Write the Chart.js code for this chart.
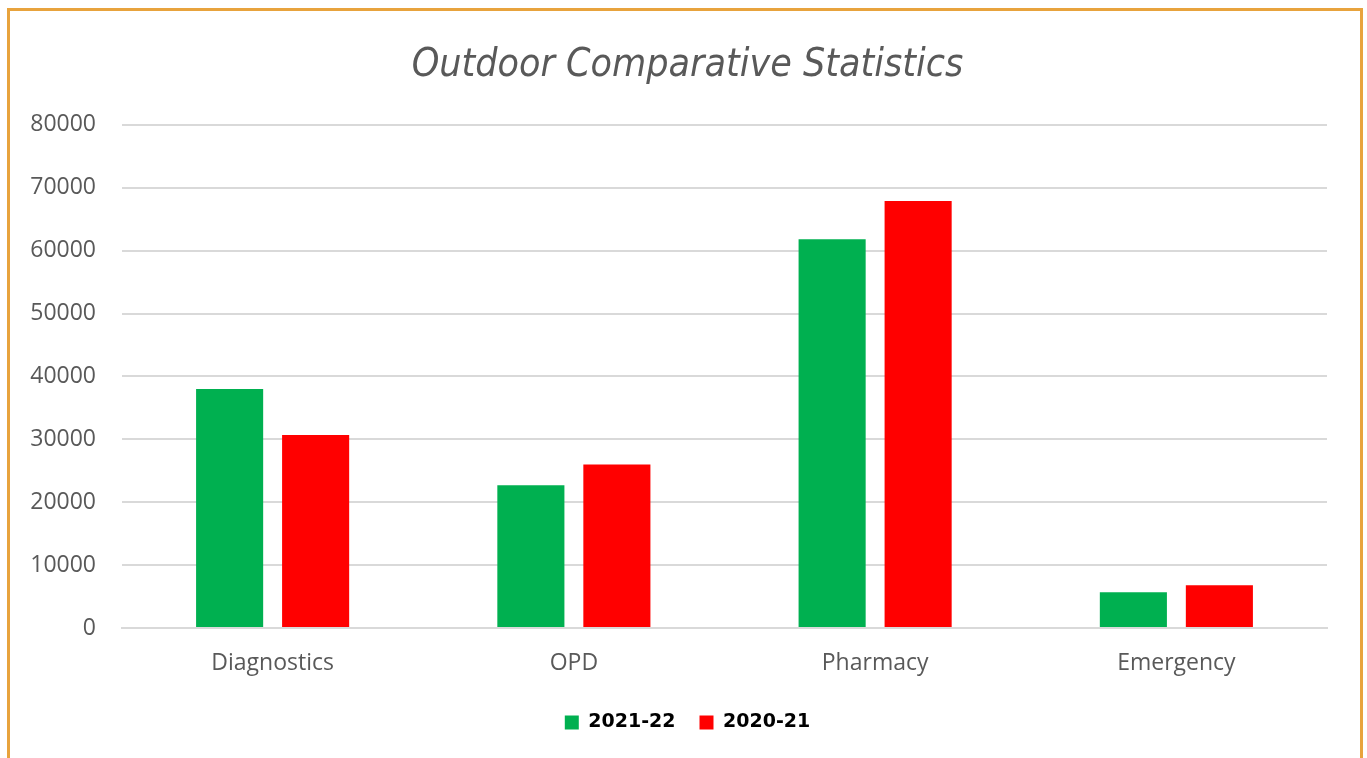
<!DOCTYPE html>
<html>
<head>
<meta charset="utf-8">
<script src="https://cdn.jsdelivr.net/npm/chart.js@4"></script>
<style>
  html, body { margin: 0; padding: 0; background: #fff; overflow: hidden; }
  #frame { position: absolute; left: 7px; top: 8px; width: 1350px; height: 800px; border: 3px solid #E8A33D; box-sizing: content-box; }
  #wrap { position: absolute; left: 0; top: 0; width: 1367px; height: 758px; }
</style>
</head>
<body>
<div id="frame"></div>
<div id="wrap"><canvas id="outdoorChart"></canvas></div>
<script>
const categories = ['Diagnostics', 'OPD', 'Pharmacy', 'Emergency'];
const seriesNames = ['2021-22', '2020-21'];
const values2122 = [38000, 22700, 61800, 5700];
const values2021 = [30700, 26000, 67900, 6800];

const ctx = document.getElementById('outdoorChart').getContext('2d');
const outdoorChart = new Chart(ctx, {
    type: 'bar',
    data: {
        labels: categories,
        datasets: [
            {
                label: seriesNames[0],
                data: values2122,
                backgroundColor: '#00B050',
                categoryPercentage: 0.571,
                barPercentage: 0.78
            },
            {
                label: seriesNames[1],
                data: values2021,
                backgroundColor: '#FF0000',
                categoryPercentage: 0.571,
                barPercentage: 0.78
            }
        ]
    },
    options: {
        responsive: true,
        maintainAspectRatio: false,
        animation: false,
        layout: { padding: { left: 20, right: 12, top: 10, bottom: 16 } },
        plugins: {
            title: {
                display: true,
                text: 'Outdoor Comparative Statistics',
                color: '#595959',
                font: { family: '"DejaVu Sans Condensed", "Liberation Sans Narrow", sans-serif', size: 39, style: 'italic', weight: 'normal' },
                padding: { top: 32, bottom: 36 }
            },
            legend: {
                position: 'bottom',
                labels: {
                    color: '#000',
                    font: { family: '"DejaVu Sans", Verdana, sans-serif', size: 19, weight: 'bold' },
                    boxWidth: 14,
                    boxHeight: 14,
                    padding: 24
                }
            },
            tooltip: { enabled: false }
        },
        scales: {
            x: {
                grid: { display: false, drawTicks: false },
                border: { display: true, color: '#D9D9D9', width: 2 },
                ticks: { color: '#595959', font: { family: '"Open Sans", sans-serif', size: 23 }, padding: 22 },
                afterFit: (scale) => { scale.height = 61; }
            },
            y: {
                beginAtZero: true,
                min: 0,
                max: 80000,
                ticks: {
                    stepSize: 10000,
                    color: '#595959',
                    font: { family: '"Open Sans", sans-serif', size: 23 },
                    padding: 26,
                    callback: (v) => String(v)
                },
                grid: { color: '#D9D9D9', lineWidth: 2, drawTicks: false },
                border: { display: false },
                afterFit: (scale) => { scale.width = 102; }
            },
            // empty right-hand spacer so the title centres like the original
            ySpacer: {
                position: 'right',
                min: 0,
                max: 80000,
                grid: { display: false, drawTicks: false },
                ticks: { display: false },
                border: { display: false },
                afterFit: (scale) => { scale.width = 28; }
            }
        }
    }
});
</script>
</body>
</html>
